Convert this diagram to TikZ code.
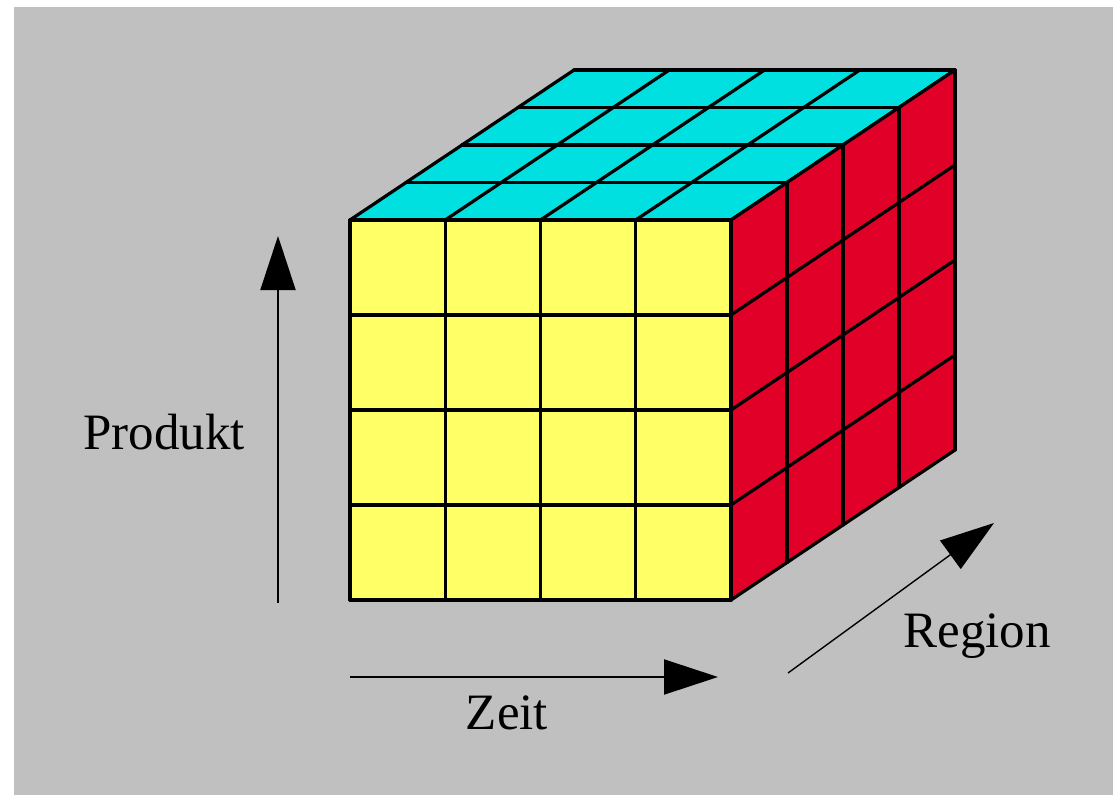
\documentclass[tikz,border=0pt]{standalone}
\usepackage{fontspec}
\setmainfont{Liberation Serif}
\usepackage{tikz}
\usetikzlibrary{arrows.meta}
\definecolor{CubeYellow}{RGB}{255,255,102}
\definecolor{CubeCyan}{RGB}{0,224,224}
\definecolor{CubeRed}{RGB}{224,0,40}
\definecolor{BgGray}{RGB}{192,192,192}

\begin{document}
\begin{tikzpicture}[x=1bp, y=-1bp,
          grid/.style={draw=black, line width=3.2bp, line cap=round},
          axis/.style={-{Triangle[length=54bp, width=35bp]}, draw=black,
                       line width=2bp},
          lbl/.style={font=\fontsize{51bp}{60bp}\selectfont, anchor=base,
                      inner sep=0pt}
        ]
        % background
        \fill[white] (0,0) rectangle (1113,795);
        \fill[BgGray] (14,7) rectangle (1113,795);
        \useasboundingbox (0,0) rectangle (1113,795);

        % front face (Zeit x Produkt)
        \fill[CubeYellow] (350,220) rectangle (731,600);
        \foreach \i in {0,...,4} {
          \draw[grid] (350+95.25*\i, 220) -- (350+95.25*\i, 600);
          \draw[grid] (350, 220+95*\i) -- (731, 220+95*\i);
        }

        % top face
        \fill[CubeCyan] (350,220) -- (731,220) -- (955,70) -- (574,70) -- cycle;
        \foreach \i in {0,...,4} {
          \draw[grid] (350+56*\i, 220-37.5*\i) -- (731+56*\i, 220-37.5*\i);
          \draw[grid] (350+95.25*\i, 220) -- (574+95.25*\i, 70);
        }

        % right face
        \fill[CubeRed] (731,220) -- (955,70) -- (955,450) -- (731,600) -- cycle;
        \foreach \i in {0,...,4} {
          \draw[grid] (731+56*\i, 220-37.5*\i) -- (731+56*\i, 600-37.5*\i);
          \draw[grid] (731, 220+95*\i) -- (955, 70+95*\i);
        }

        % axes
        \coordinate (prodA) at (278,603);
        \coordinate (prodB) at (278,236);
        \coordinate (zeitA) at (350,677);
        \coordinate (zeitB) at (718,677);
        \coordinate (regA)  at (788,673);
        \coordinate (regB)  at (994,523);
        \draw[axis] (prodA) -- (prodB);
        \draw[axis] (zeitA) -- (zeitB);
        \draw[axis, line width=1.4bp] (regA) -- (regB);

        % labels
        \node[lbl] (produkt) at (164,449) {Produkt};
        \node[lbl] (zeit)    at (507,729) {Zeit};
        \node[lbl] (region)  at (977,647) {Region};
      \end{tikzpicture}
\end{document}
